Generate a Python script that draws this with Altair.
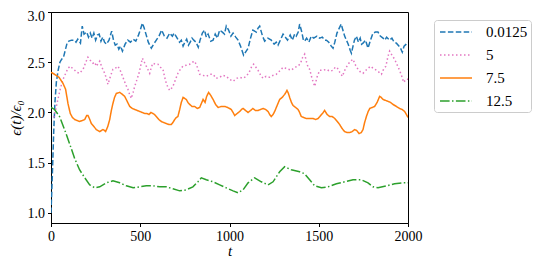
import altair as alt
import pandas as pd

series_names = ["0.0125", "5", "7.5", "12.5"]
series_colors = ["#1f77b4", "#e377c2", "#ff7f0e", "#2ca02c"]
series_dashes = [[5.5, 2.4], [1.5, 2.5], [1, 0], [9.6, 2.4, 1.5, 2.4]]

x_ticks = [0, 500, 1000, 1500, 2000]
y_ticks = [1.0, 1.5, 2.0, 2.5, 3.0]

blue_t = [0, 8, 15, 22, 30, 40, 50, 60, 70, 80, 90, 100, 115, 130, 140, 150, 165, 175, 185, 200,
          210, 220, 230, 240, 250, 260, 270, 280, 290, 300, 310, 325, 340, 350, 360, 370, 380, 390,
          400, 415, 430, 445, 460, 475, 490, 500, 512, 522, 532, 545, 562, 575, 590, 605, 620, 635,
          650, 665, 680, 690, 700, 710, 720, 730, 740, 750, 760, 770, 780, 790, 800, 812, 825, 835,
          848, 860, 870, 880, 895, 908, 920, 932, 945, 960, 972, 982, 995, 1008, 1020, 1035, 1048,
          1062, 1079, 1090, 1104, 1118, 1131, 1150, 1160, 1169, 1185, 1197, 1215, 1234, 1250, 1262,
          1272, 1290, 1300, 1309, 1325, 1340, 1352, 1365, 1374, 1385, 1393, 1405, 1414, 1421, 1432,
          1445, 1458, 1472, 1490, 1505, 1520, 1533, 1543, 1556, 1570, 1580, 1590, 1602, 1615, 1626,
          1635, 1645, 1655, 1665, 1676, 1683, 1692, 1700, 1711, 1722, 1732, 1740, 1748, 1762, 1776,
          1790, 1804, 1818, 1832, 1845, 1860, 1870, 1880, 1897, 1910, 1922, 1935, 1950, 1958, 1968,
          1978, 1990, 2000]
blue_v = [1.0, 1.4, 1.8, 2.1, 2.3, 2.42, 2.5, 2.53, 2.55, 2.62, 2.69, 2.71, 2.72, 2.72, 2.7, 2.73,
          2.69, 2.86, 2.78, 2.8, 2.75, 2.79, 2.74, 2.79, 2.72, 2.77, 2.78, 2.71, 2.75, 2.7, 2.68,
          2.72, 2.81, 2.72, 2.67, 2.68, 2.63, 2.66, 2.61, 2.68, 2.72, 2.7, 2.73, 2.71, 2.77, 2.82,
          2.89, 2.84, 2.78, 2.7, 2.64, 2.68, 2.72, 2.76, 2.82, 2.76, 2.74, 2.79, 2.76, 2.79, 2.76,
          2.73, 2.7, 2.72, 2.66, 2.7, 2.73, 2.67, 2.7, 2.74, 2.72, 2.7, 2.65, 2.72, 2.79, 2.82, 2.75,
          2.78, 2.71, 2.72, 2.78, 2.74, 2.82, 2.8, 2.78, 2.86, 2.82, 2.76, 2.79, 2.75, 2.72, 2.66,
          2.57, 2.6, 2.64, 2.74, 2.82, 2.8, 2.84, 2.86, 2.76, 2.71, 2.74, 2.72, 2.68, 2.7, 2.67,
          2.74, 2.78, 2.76, 2.72, 2.77, 2.72, 2.78, 2.76, 2.8, 2.88, 2.8, 2.72, 2.71, 2.74, 2.7,
          2.76, 2.74, 2.76, 2.74, 2.75, 2.72, 2.72, 2.7, 2.66, 2.64, 2.7, 2.79, 2.84, 2.88, 2.82,
          2.76, 2.72, 2.68, 2.62, 2.59, 2.66, 2.72, 2.76, 2.7, 2.74, 2.68, 2.69, 2.72, 2.64, 2.72,
          2.79, 2.8, 2.8, 2.76, 2.74, 2.72, 2.75, 2.72, 2.74, 2.7, 2.69, 2.66, 2.64, 2.6, 2.66,
          2.68, 2.7]

pink_t = [15, 25, 35, 50, 65, 80, 95, 108, 120, 133, 145, 160, 170, 180, 195, 207, 220, 235, 245,
          254, 265, 273, 285, 301, 310, 319, 333, 347, 360, 375, 390, 403, 418, 431, 442, 450, 460,
          469, 482, 493, 503, 512, 523, 534, 545, 553, 562, 571, 585, 599, 613, 627, 637, 646, 655,
          665, 675, 683, 698, 711, 725, 739, 758, 777, 792, 805, 820, 833, 850, 870, 890, 908, 925,
          945, 962, 982, 1000, 1020, 1040, 1057, 1075, 1094, 1110, 1125, 1135, 1148, 1160, 1175,
          1188, 1205, 1225, 1245, 1262, 1285, 1300, 1315, 1330, 1346, 1365, 1384, 1398, 1410, 1421,
          1432, 1440, 1449, 1462, 1477, 1490, 1505, 1525, 1543, 1562, 1580, 1592, 1602, 1618, 1632,
          1648, 1664, 1678, 1692, 1706, 1720, 1735, 1748, 1770, 1790, 1805, 1823, 1838, 1851, 1863,
          1876, 1888, 1897, 1910, 1925, 1940, 1953, 1965, 1976, 1988, 2000]
pink_v = [1.95, 2.02, 2.1, 2.22, 2.32, 2.38, 2.44, 2.46, 2.44, 2.42, 2.4, 2.39, 2.41, 2.43, 2.5,
          2.55, 2.52, 2.49, 2.5, 2.46, 2.49, 2.51, 2.45, 2.39, 2.34, 2.28, 2.36, 2.43, 2.44, 2.46,
          2.41, 2.35, 2.28, 2.23, 2.17, 2.14, 2.2, 2.26, 2.33, 2.39, 2.47, 2.54, 2.5, 2.46, 2.42,
          2.39, 2.45, 2.49, 2.48, 2.48, 2.45, 2.43, 2.35, 2.29, 2.25, 2.22, 2.24, 2.26, 2.33, 2.39,
          2.43, 2.46, 2.47, 2.48, 2.5, 2.51, 2.45, 2.38, 2.37, 2.36, 2.38, 2.38, 2.34, 2.35, 2.37,
          2.36, 2.33, 2.31, 2.34, 2.35, 2.34, 2.36, 2.4, 2.46, 2.48, 2.45, 2.42, 2.37, 2.34, 2.36,
          2.35, 2.37, 2.38, 2.42, 2.45, 2.44, 2.43, 2.42, 2.45, 2.46, 2.49, 2.55, 2.58, 2.5, 2.45,
          2.43, 2.34, 2.26, 2.35, 2.42, 2.42, 2.43, 2.41, 2.42, 2.45, 2.45, 2.4, 2.36, 2.43, 2.48,
          2.51, 2.53, 2.47, 2.43, 2.4, 2.39, 2.43, 2.46, 2.44, 2.42, 2.4, 2.38, 2.43, 2.46, 2.56,
          2.61, 2.57, 2.53, 2.47, 2.42, 2.36, 2.3, 2.33, 2.33]

orange_t = [0, 20, 45, 67, 82, 95, 108, 120, 133, 160, 175, 189, 200, 207, 215, 226, 240, 254, 273,
            282, 291, 300, 306, 318, 329, 338, 347, 356, 366, 385, 400, 413, 427, 441, 455, 469, 483,
            497, 511, 525, 537, 549, 560, 571, 580, 590, 604, 618, 632, 646, 660, 674, 683, 693, 702,
            711, 721, 730, 740, 749, 758, 767, 777, 790, 805, 819, 833, 845, 852, 863, 872, 883, 895,
            908, 922, 936, 955, 973, 990, 1010, 1020, 1029, 1043, 1057, 1067, 1076, 1090, 1104, 1118,
            1131, 1145, 1160, 1174, 1188, 1202, 1216, 1225, 1234, 1244, 1253, 1267, 1281, 1295, 1309,
            1316, 1322, 1330, 1337, 1347, 1356, 1370, 1384, 1393, 1402, 1416, 1430, 1450, 1468, 1482,
            1496, 1506, 1515, 1525, 1533, 1547, 1561, 1575, 1590, 1604, 1617, 1631, 1645, 1659, 1673,
            1687, 1701, 1713, 1726, 1738, 1748, 1757, 1767, 1777, 1786, 1800, 1813, 1827, 1841, 1850,
            1860, 1874, 1888, 1902, 1916, 1935, 1953, 1967, 1981, 1991, 2000]
orange_v = [2.4, 2.38, 2.35, 2.29, 2.23, 2.09, 1.99, 1.95, 1.93, 1.91, 1.92, 1.93, 1.97, 1.97, 1.94,
            1.89, 1.86, 1.83, 1.81, 1.82, 1.83, 1.82, 1.81, 1.86, 1.93, 2.02, 2.09, 2.15, 2.19, 2.2,
            2.18, 2.16, 2.11, 2.06, 2.04, 2.03, 2.02, 2.01, 2.0, 1.99, 1.99, 1.98, 2.0, 1.99, 1.98,
            1.96, 1.93, 1.91, 1.9, 1.89, 1.88, 1.88, 1.9, 1.93, 1.95, 1.96, 2.03, 2.1, 2.15, 2.14,
            2.13, 2.1, 2.08, 2.06, 2.06, 2.04, 2.05, 2.1, 2.13, 2.1, 2.16, 2.2, 2.17, 2.13, 2.08,
            2.05, 2.06, 2.06, 2.05, 2.03, 2.0, 1.97, 1.99, 2.01, 2.03, 2.04, 2.02, 2.0, 2.02, 2.04,
            2.02, 2.02, 2.03, 2.04, 2.03, 2.01, 1.98, 1.96, 1.98, 2.01, 2.07, 2.13, 2.15, 2.18, 2.2,
            2.22, 2.19, 2.15, 2.1, 2.07, 2.05, 2.03, 2.0, 1.96, 1.95, 1.94, 1.94, 1.94, 1.93, 1.94,
            1.96, 1.98, 2.0, 2.02, 1.98, 1.96, 1.96, 1.94, 1.91, 1.88, 1.84, 1.81, 1.8, 1.8, 1.81,
            1.83, 1.82, 1.79, 1.8, 1.83, 1.9, 1.96, 2.01, 2.04, 2.05, 2.06, 2.1, 2.16, 2.15, 2.13,
            2.12, 2.11, 2.1, 2.08, 2.06, 2.04, 2.03, 2.01, 1.98, 1.95]

green_t = [0, 20, 48, 76, 104, 133, 160, 189, 217, 245, 273, 310, 347, 385, 422, 460, 497, 534, 571,
           609, 646, 683, 721, 758, 795, 823, 842, 870, 908, 945, 982, 1020, 1048, 1076, 1104, 1141,
           1178, 1216, 1244, 1281, 1309, 1346, 1393, 1421, 1449, 1477, 1515, 1552, 1599, 1645, 1692,
           1739, 1776, 1804, 1832, 1879, 1925, 1972, 2000]
green_v = [2.05, 2.03, 1.96, 1.83, 1.69, 1.54, 1.43, 1.35, 1.28, 1.25, 1.26, 1.3, 1.32, 1.3, 1.27,
           1.25, 1.26, 1.27, 1.27, 1.26, 1.26, 1.24, 1.22, 1.23, 1.26, 1.31, 1.35, 1.33, 1.31, 1.28,
           1.25, 1.22, 1.2, 1.23, 1.3, 1.35, 1.31, 1.28, 1.31, 1.41, 1.46, 1.43, 1.41, 1.39, 1.33,
           1.27, 1.25, 1.26, 1.29, 1.31, 1.33, 1.33, 1.3, 1.26, 1.25, 1.27, 1.29, 1.3, 1.3]

rows = []
for name, ts, vs in [("0.0125", blue_t, blue_v), ("5", pink_t, pink_v),
                     ("7.5", orange_t, orange_v), ("12.5", green_t, green_v)]:
    for t, v in zip(ts, vs):
        rows.append({"series": name, "t": t, "v": v})
df = pd.DataFrame(rows)

FONT = "Liberation Serif, DejaVu Serif, serif"

chart = alt.Chart(df).mark_line(strokeWidth=1.5, clip=True).encode(
    x=alt.X("t:Q", scale=alt.Scale(domain=[0, 2000], nice=False),
            axis=alt.Axis(values=x_ticks, format="d", title="t", titleFontStyle="italic",
                          titleBaseline="alphabetic", titleY=32)),
    y=alt.Y("v:Q", scale=alt.Scale(domain=[0.9, 3.0], nice=False, zero=False),
            axis=alt.Axis(values=y_ticks, format=".1f", title="ϵ(t)/ϵ₀", titleFontStyle="italic",
                          labelOffset={"condition": {"test": "datum.value >= 2.9", "value": 4},
                                       "value": 1},
                          titleBaseline="alphabetic", titleX=-31)),
    color=alt.Color("series:N", scale=alt.Scale(domain=series_names, range=series_colors),
                    legend=alt.Legend(title=None)),
    strokeDash=alt.StrokeDash("series:N", scale=alt.Scale(domain=series_names, range=series_dashes),
                              legend=alt.Legend(title=None)),
    order=alt.Order("t:Q"),
).properties(
    width=357, height=211,
    autosize=alt.AutoSizeParams(type="none"),
    padding={"left": 43, "top": 4, "right": 124, "bottom": 37},
).configure_view(
    stroke="black", strokeWidth=1
).configure_axis(
    grid=False, domainColor="black", tickColor="black", tickSize=3.5, labelPadding=3,
    labelFont=FONT, labelFontSize=14, labelColor="black", labelFlush=False,
    titleFont=FONT, titleFontSize=15, titleColor="black", titleFontWeight="normal",
).configure_legend(
    orient="none", legendX=383, legendY=8, strokeColor="#cccccc", cornerRadius=3,
    padding=3, fillColor="white", labelFont=FONT, labelFontSize=15, labelColor="black",
    symbolType="M-0.75,0H3.25", symbolSize=256, symbolStrokeWidth=1.5, labelOffset=31, rowPadding=6,
)

chart.save("out.html", embed_options={"renderer": "svg", "actions": False})
